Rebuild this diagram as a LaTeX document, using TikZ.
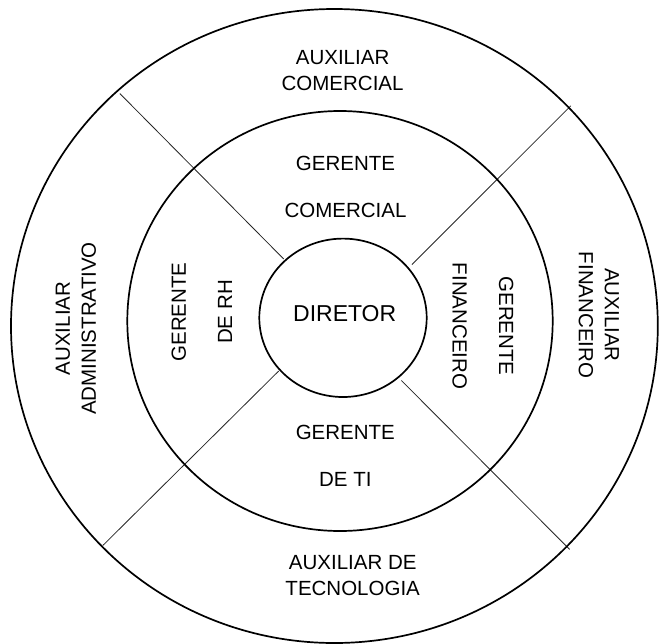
\documentclass[tikz,border=0pt]{standalone}
\usepackage{fontspec}
\setmainfont{Liberation Sans}
\usetikzlibrary{shapes.geometric}
\begin{document}
\begin{tikzpicture}[x=1pt,y=-1pt,
  ring/.style={draw=black,line width=1.7pt},
  divider/.style={draw=black!85,line width=0.8pt},
  outerlbl/.style={align=center,inner sep=0pt,font=\fontsize{20.5}{26}\selectfont},
  midlbl/.style={align=center,inner sep=0pt,font=\fontsize{20.5}{46.4}\selectfont},
  centerlbl/.style={inner sep=0pt,font=\fontsize{23}{28}\selectfont}]
\useasboundingbox (0,0) rectangle (659,643);
% centres
\coordinate (co) at (334.4,326);
\coordinate (cm) at (340,321);
\coordinate (ci) at (343,317.8);
% dividers
\coordinate (ula) at (119.8,93.5);  \coordinate (ulb) at (283.7,259);
\coordinate (ura) at (570.8,105.8); \coordinate (urb) at (412,264.5);
\coordinate (lla) at (103,545.3);   \coordinate (llb) at (278.7,371);
\coordinate (lra) at (569.6,549.4); \coordinate (lrb) at (401.4,380.5);
\draw[divider] (ula) -- (ulb);
\draw[divider] (ura) -- (urb);
\draw[divider] (lla) -- (llb);
\draw[divider] (lra) -- (lrb);
% rings
\draw[ring] (co) ellipse [x radius=323.4, y radius=317];
\draw[ring] (cm) ellipse [x radius=212.7, y radius=210];
\draw[ring] (ci) ellipse [x radius=83.7, y radius=79.2];
% labels
\node[centerlbl] (dir) at (344.7,313.6) {DIRETOR};
\node[midlbl] (gc) at (345.5,187) {GERENTE\\COMERCIAL};
\node[midlbl] (gti) at (345.3,455.7) {GERENTE\\DE TI};
\node[midlbl,rotate=90] (grh) at (201.8,312) {GERENTE\\DE RH};
\node[midlbl,rotate=-90] (gf) at (483,326) {GERENTE\\FINANCEIRO};
\node[outerlbl] (ac) at (342.6,71) {AUXILIAR\\COMERCIAL};
\node[outerlbl] (at) at (352.7,576) {AUXILIAR DE\\TECNOLOGIA};
\node[outerlbl,rotate=90] (aa) at (76,328.5) {AUXILIAR\\ADMINISTRATIVO};
\node[outerlbl,rotate=-90] (af) at (598.8,315) {AUXILIAR\\FINANCEIRO};
\end{tikzpicture}
\end{document}
